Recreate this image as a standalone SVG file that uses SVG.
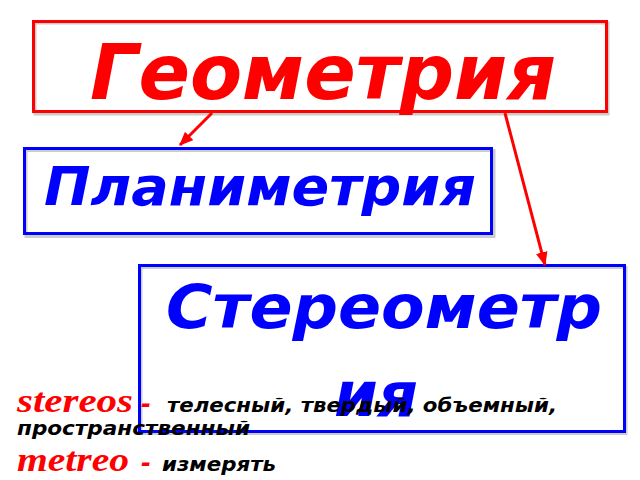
<svg xmlns="http://www.w3.org/2000/svg" width="640" height="480" viewBox="0 0 640 480">
  <defs>
    <style>
      .box { fill: none; stroke-width: 3; }
      .shadow { fill: none; stroke: #9a9a9a; stroke-width: 3; opacity: 0.5; }
      .red { stroke: #FF0000; }
      .blue { stroke: #0000FF; }
      .title { font-family: "DejaVu Sans", Verdana, sans-serif; font-weight: bold; font-style: italic; }
      .serif { font-family: "Liberation Serif", "Times New Roman", serif; font-weight: bold; font-style: italic; fill: #FF0000; }
      .note { font-family: "DejaVu Sans", Verdana, sans-serif; font-weight: bold; font-style: italic; font-size: 20px; fill: #000000; }
      .dash { font-family: "DejaVu Sans", Verdana, sans-serif; font-weight: bold; font-style: italic; font-size: 24px; fill: #FF0000; }
      .conn { stroke: #FF0000; stroke-width: 3; fill: none; }
    </style>
    <marker id="arrow" markerUnits="userSpaceOnUse" viewBox="0 0 12 10" markerWidth="14" markerHeight="12" refX="11" refY="5" orient="auto">
      <path d="M0,0 L12,5 L0,10 z" fill="#FF0000"/>
    </marker>
  </defs>
  <rect width="640" height="480" fill="#FFFFFF"/>

  <g id="node-geometria">
    <rect class="shadow" x="35" y="23" width="573" height="91"/>
    <rect class="box red" x="33.5" y="21.5" width="573" height="90" fill="#FFFFFF"/>
    <text class="title" x="90" y="99" font-size="76" fill="#FF0000" textLength="466" lengthAdjust="spacingAndGlyphs">Геометрия</text>
  </g>

  <g id="node-planimetria">
    <rect class="shadow" x="26" y="150.5" width="468" height="86"/>
    <rect class="box blue" x="24.5" y="148.5" width="467" height="85" fill="#FFFFFF"/>
    <text class="title" x="44" y="205" font-size="54" fill="#0000FF" textLength="432" lengthAdjust="spacingAndGlyphs">Планиметрия</text>
  </g>

  <g id="node-stereometria">
    <rect class="shadow" x="141" y="267.5" width="485" height="166"/>
    <rect class="box blue" x="139.5" y="265.5" width="485" height="166" fill="#FFFFFF"/>
    <text class="title" x="166" y="328" font-size="60" fill="#0000FF" textLength="436" lengthAdjust="spacingAndGlyphs">Стереометр</text>
    <text class="title" x="334" y="416" font-size="62" fill="#0000FF" textLength="84" lengthAdjust="spacingAndGlyphs">ия</text>
  </g>

  <g id="connectors">
    <line class="conn" x1="212" y1="113" x2="180" y2="145" marker-end="url(#arrow)"/>
    <line class="conn" x1="505" y1="113" x2="545" y2="265" marker-end="url(#arrow)"/>
  </g>

  <g id="notes">
    <text class="serif" x="17" y="412" font-size="34" textLength="116" lengthAdjust="spacingAndGlyphs">stereos</text>
    <text class="dash" x="141" y="412">-</text>
    <text class="note" x="167" y="412" textLength="390" lengthAdjust="spacingAndGlyphs">телесный, твердый, объемный,</text>
    <text class="note" x="17" y="435" textLength="233" lengthAdjust="spacingAndGlyphs">пространственный</text>
    <text class="serif" x="17" y="471" font-size="34" textLength="112" lengthAdjust="spacingAndGlyphs">metreo</text>
    <text class="dash" x="141" y="471">-</text>
    <text class="note" x="162" y="471" textLength="114" lengthAdjust="spacingAndGlyphs">измерять</text>
  </g>
</svg>
